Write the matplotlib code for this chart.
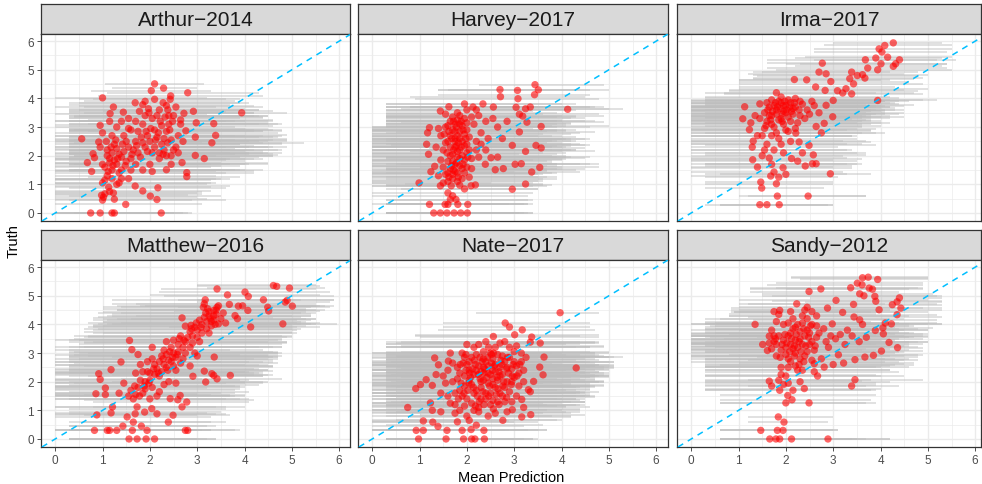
import numpy as np
import matplotlib
matplotlib.use("Agg")
import matplotlib.pyplot as plt

plt.rcParams["font.family"] = ["Liberation Sans", "DejaVu Sans"]

# panel titles (facet order: row by row)
STORMS = ["Arthur\u22122014", "Harvey\u22122017", "Irma\u22122017",
          "Matthew\u22122016", "Nate\u22122017", "Sandy\u22122012"]

# (mean prediction, truth, interval low, interval high)
ARTHUR = [
    (2.10, 4.51, 1.05, 3.15), (2.03, 4.27, 0.75, 3.30), (2.29, 4.36, 1.20, 3.00), (2.80, 4.20, 1.10, 4.30),
    (1.00, 4.02, 0.00, 3.20), (2.44, 4.09, 0.90, 4.40), (2.43, 3.97, 0.80, 3.90), (2.10, 3.97, 0.50, 3.60),
    (1.90, 3.90, 0.60, 3.80), (3.94, 3.50, 2.20, 4.90), (2.92, 3.55, 1.00, 4.60), (2.72, 3.48, 0.60, 4.20),
    (3.35, 3.12, 1.40, 4.80), (2.98, 3.15, 1.10, 4.50), (3.39, 2.71, 1.50, 4.90), (3.31, 2.45, 1.40, 5.25),
    (2.96, 2.65, 0.90, 4.60), (2.76, 2.87, 0.70, 4.40), (0.56, 2.59, 0.00, 2.60), (1.23, 3.70, 0.00, 3.40),
    (1.16, 3.47, 0.00, 3.20), (1.44, 3.52, 0.30, 3.60), (1.69, 3.85, 0.30, 3.90), (1.85, 3.78, 0.30, 3.70),
    (1.97, 3.64, 0.30, 4.00), (0.95, 3.06, 0.00, 3.00), (0.92, 2.48, 0.00, 3.10), (0.80, 2.07, 0.00, 2.80),
    (0.68, 1.76, 0.00, 2.70), (0.77, 1.45, 0.00, 2.80), (0.83, 1.93, 0.00, 3.00), (2.96, 2.01, 1.00, 4.70),
    (3.15, 1.90, 1.20, 4.40), (2.68, 1.76, 0.80, 4.50), (2.35, 1.51, 0.40, 4.40), (2.78, 1.41, 0.80, 4.20),
    (2.78, 1.27, 0.70, 3.90), (1.69, 0.94, 0.00, 3.70), (1.85, 0.77, 0.00, 3.30), (2.17, 0.88, 0.30, 3.60),
    (2.01, 0.59, 0.30, 3.50), (2.15, 0.47, 0.30, 3.60), (1.49, 0.30, 0.00, 3.10), (2.24, 0.00, 0.40, 2.90),
    (0.75, 0.00, 0.00, 2.40), (0.95, 0.00, 0.00, 2.50), (1.20, 0.00, 0.00, 2.70), (1.25, 0.00, 0.00, 2.80),
    (1.00, 0.45, 0.00, 2.90), (1.02, 0.55, 0.00, 3.00), (1.05, 0.67, 0.00, 3.10), (0.98, 0.62, 0.00, 2.80),
    (1.25, 0.48, 0.00, 3.20), (1.23, 0.70, 0.00, 3.00), (1.13, 0.90, 0.00, 3.30), (1.00, 1.05, 0.00, 3.40),
    (1.30, 1.00, 0.00, 3.20), (1.10, 1.30, 0.00, 3.40), (1.20, 1.50, 0.00, 3.50), (1.00, 1.70, 0.00, 3.30),
    (1.15, 1.90, 0.00, 3.60), (1.30, 1.70, 0.30, 3.70), (1.40, 1.50, 0.30, 3.80), (1.10, 2.20, 0.00, 3.70),
    (1.25, 2.40, 0.00, 3.90), (1.35, 2.05, 0.30, 3.80), (1.50, 1.80, 0.30, 4.00), (1.55, 2.30, 0.30, 4.10),
    (1.45, 2.70, 0.00, 4.00), (1.30, 3.00, 0.00, 3.80), (1.60, 2.90, 0.30, 4.20), (1.70, 2.50, 0.30, 4.30),
    (1.75, 2.10, 0.30, 4.10), (1.90, 2.30, 0.30, 4.50), (1.95, 2.70, 0.30, 4.40), (1.85, 3.10, 0.30, 4.30),
    (2.05, 3.30, 0.30, 4.40), (2.10, 2.90, 0.30, 4.60), (2.05, 2.10, 0.30, 4.50), (2.20, 1.90, 0.30, 4.20),
    (2.25, 2.40, 0.30, 4.80), (2.30, 2.60, 0.30, 4.90), (2.40, 3.10, 0.30, 4.70), (2.50, 3.40, 0.50, 4.50),
    (2.20, 3.60, 0.30, 4.30), (2.35, 3.75, 0.50, 4.20), (2.55, 2.30, 0.60, 4.90), (2.45, 2.00, 0.40, 4.60),
    (2.60, 2.70, 0.60, 4.80), (1.60, 1.50, 0.30, 3.90), (1.40, 1.20, 0.00, 3.50), (1.55, 3.30, 0.30, 3.90),
    (1.20, 2.70, 0.00, 3.80), (2.00, 1.70, 0.30, 4.00), (2.65, 3.10, 0.70, 4.50),
    (1.05, 1.60, 0.00, 3.30), (1.15, 1.75, 0.00, 3.50), (1.25, 1.85, 0.00, 3.60), (1.10, 2.00, 0.00, 3.40),
    (1.20, 2.10, 0.00, 3.70), (1.30, 2.25, 0.00, 3.80), (1.40, 1.95, 0.30, 3.90), (1.35, 1.40, 0.00, 3.60),
    (1.45, 2.15, 0.30, 4.00), (1.50, 2.50, 0.30, 4.10), (1.65, 2.20, 0.30, 4.20), (1.60, 1.90, 0.30, 4.00),
    (1.70, 1.70, 0.30, 4.10), (1.80, 1.95, 0.30, 4.30), (1.85, 2.45, 0.30, 4.40), (1.95, 2.15, 0.30, 4.40),
    (2.00, 2.50, 0.30, 4.50), (2.10, 2.30, 0.30, 4.60), (2.15, 2.65, 0.30, 4.70), (2.20, 2.10, 0.30, 4.40),
    (2.30, 2.20, 0.30, 4.70), (2.35, 2.85, 0.30, 4.80), (2.25, 3.05, 0.30, 4.60), (2.15, 3.40, 0.30, 4.30),
    (2.40, 3.40, 0.40, 4.50), (2.45, 2.55, 0.40, 4.90), (2.50, 2.20, 0.50, 4.80), (2.35, 2.00, 0.40, 4.60),
    (1.70, 3.20, 0.30, 4.00), (1.75, 2.85, 0.30, 4.20), (1.90, 3.40, 0.30, 4.20), (1.55, 2.95, 0.30, 4.00),
    (1.40, 3.20, 0.00, 3.80), (1.15, 3.20, 0.00, 3.60), (1.00, 2.80, 0.00, 3.40), (0.95, 2.30, 0.00, 3.20),
    (1.05, 1.15, 0.00, 3.30), (1.20, 1.20, 0.00, 3.40), (1.35, 1.05, 0.00, 3.30), (1.15, 0.75, 0.00, 3.10),
    (2.55, 3.70, 0.60, 4.40), (2.65, 3.25, 0.70, 4.60), (2.60, 2.10, 0.60, 4.80), (2.70, 2.50, 0.70, 4.90),
    (2.45, 1.70, 0.40, 4.50), (1.85, 1.50, 0.30, 4.00), (2.05, 1.45, 0.30, 4.20), (1.55, 1.20, 0.00, 3.70),
]
ARTHUR_CORE = [
    (1.12, 1.45, 0.00, 3.40), (1.22, 1.65, 0.00, 3.50), (1.32, 1.90, 0.00, 3.70), (1.18, 2.30, 0.00, 3.60),
    (1.28, 2.55, 0.00, 3.80), (1.42, 2.40, 0.30, 3.90), (1.48, 1.65, 0.30, 3.90), (1.62, 2.05, 0.30, 4.10),
    (1.72, 2.35, 0.30, 4.20), (1.82, 2.65, 0.30, 4.30), (1.92, 2.85, 0.30, 4.40), (2.02, 2.95, 0.30, 4.50),
    (2.12, 2.55, 0.30, 4.60), (2.18, 2.80, 0.30, 4.70), (2.22, 3.20, 0.30, 4.50), (2.28, 2.05, 0.30, 4.60),
    (2.32, 3.35, 0.40, 4.40), (2.38, 2.45, 0.40, 4.80), (2.42, 2.90, 0.40, 4.80), (2.48, 3.20, 0.50, 4.60),
    (1.98, 3.50, 0.30, 4.20), (2.28, 3.85, 0.50, 4.10), (2.38, 3.60, 0.50, 4.30), (1.78, 3.55, 0.30, 3.90),
    (1.08, 2.50, 0.00, 3.50),
]

HARVEY = [
    (3.44, 4.48, 2.25, 4.90), (3.51, 4.30, 1.40, 5.00), (3.43, 4.13, 1.40, 4.60), (2.70, 4.31, 1.40, 4.30),
    (3.07, 4.28, 1.60, 4.60), (2.71, 4.06, 0.80, 4.50), (3.08, 3.99, 0.90, 4.80), (4.13, 3.62, 2.00, 5.30),
    (3.34, 3.70, 0.80, 4.90), (3.04, 3.69, 0.80, 4.70), (3.24, 3.64, 0.60, 5.00), (3.11, 3.45, 0.30, 4.80),
    (3.18, 3.38, 0.30, 4.90), (3.57, 3.02, 1.40, 5.00), (3.27, 3.17, 0.60, 4.90), (3.11, 2.83, 0.50, 4.70),
    (2.96, 2.36, 0.40, 4.50), (3.46, 2.36, 1.00, 4.60), (3.57, 2.27, 1.20, 4.50), (3.24, 2.15, 0.80, 4.70),
    (3.02, 1.70, 0.50, 4.80), (3.15, 1.72, 0.60, 4.60), (3.37, 1.43, 0.80, 4.40), (3.54, 1.59, 1.00, 4.80),
    (3.24, 1.01, 0.70, 3.60), (2.96, 0.83, 0.60, 3.50), (2.60, 1.51, 0.30, 4.30), (2.77, 1.55, 0.30, 4.50),
    (2.39, 1.70, 0.30, 4.40), (2.51, 1.93, 0.30, 4.50), (2.65, 1.95, 0.30, 4.60), (0.99, 1.05, 0.00, 2.50),
    (1.15, 2.40, 0.00, 2.90), (1.21, 2.98, 0.00, 3.10), (1.17, 2.80, 0.00, 3.00), (1.44, 3.56, 0.30, 3.40),
    (1.62, 3.71, 0.30, 3.60), (1.95, 3.81, 0.30, 4.00), (2.13, 3.70, 0.30, 4.20), (2.34, 3.81, 0.30, 4.30),
    (2.56, 3.70, 0.30, 4.60), (1.19, 2.05, 0.00, 3.10), (1.24, 1.44, 0.00, 3.00), (1.32, 1.63, 0.00, 3.20),
    (1.30, 0.00, 0.30, 3.00), (1.44, 0.00, 0.30, 3.10), (1.58, 0.00, 0.30, 3.20), (1.73, 0.00, 0.30, 3.30),
    (1.87, 0.00, 0.30, 3.40), (2.01, 0.00, 0.30, 3.40), (1.21, 0.30, 0.00, 2.90), (1.54, 0.30, 0.30, 3.20),
    (1.60, 0.30, 0.30, 3.30), (1.81, 0.30, 0.30, 3.40), (2.02, 0.30, 0.30, 3.30), (1.65, 0.47, 0.30, 3.30),
    (1.77, 0.47, 0.30, 3.40), (1.60, 0.70, 0.00, 3.40), (1.70, 0.60, 0.00, 3.30), (1.44, 0.95, 0.00, 3.20),
    (1.67, 0.95, 0.00, 3.40), (1.85, 0.97, 0.30, 3.60), (1.95, 0.84, 0.30, 3.50), (2.09, 0.95, 0.30, 3.70),
    (2.18, 0.98, 0.30, 3.80), (1.40, 1.30, 0.00, 3.40), (1.50, 1.60, 0.00, 3.60), (1.60, 1.40, 0.00, 3.50),
    (1.70, 1.20, 0.00, 3.60), (1.80, 1.40, 0.00, 3.80), (1.90, 1.20, 0.30, 3.90), (1.75, 1.70, 0.00, 3.90),
    (1.85, 1.90, 0.00, 4.00), (1.65, 2.00, 0.00, 3.80), (1.50, 2.20, 0.00, 3.70), (1.60, 2.50, 0.00, 3.80),
    (1.75, 2.30, 0.00, 4.10), (1.90, 2.50, 0.00, 4.20), (1.80, 2.70, 0.00, 4.00), (1.70, 2.90, 0.00, 3.90),
    (1.55, 3.00, 0.00, 3.70), (1.65, 3.20, 0.30, 3.90), (1.85, 3.10, 0.30, 4.10), (1.95, 3.30, 0.30, 4.20),
    (2.00, 2.90, 0.00, 4.30), (2.05, 2.20, 0.00, 4.20), (2.00, 1.60, 0.30, 4.00), (2.10, 1.90, 0.30, 4.10),
    (2.20, 2.50, 0.30, 4.30), (2.15, 3.10, 0.30, 4.20), (2.30, 2.80, 0.30, 4.40), (2.25, 3.40, 0.30, 4.30),
    (1.45, 2.70, 0.00, 3.50), (1.35, 2.30, 0.00, 3.30), (1.80, 3.50, 0.30, 3.90), (2.40, 3.20, 0.30, 4.50),
    (1.95, 1.40, 0.30, 3.90), (1.70, 1.80, 0.00, 3.80), (1.85, 2.20, 0.00, 4.00), (1.75, 2.60, 0.00, 4.10),
    (2.00, 3.60, 0.30, 4.10),
    (1.55, 1.35, 0.00, 3.50), (1.65, 1.55, 0.00, 3.70), (1.75, 1.45, 0.00, 3.70), (1.85, 1.65, 0.00, 3.90),
    (1.95, 1.85, 0.00, 4.00), (1.60, 1.80, 0.00, 3.70), (1.70, 2.05, 0.00, 3.90), (1.80, 2.15, 0.00, 4.00),
    (1.90, 2.00, 0.00, 4.10), (2.00, 2.40, 0.00, 4.20), (1.55, 2.45, 0.00, 3.70), (1.65, 2.70, 0.00, 3.80),
    (1.75, 2.85, 0.00, 3.90), (1.85, 2.60, 0.00, 4.00), (1.95, 2.75, 0.00, 4.20), (2.05, 2.65, 0.00, 4.30),
    (1.60, 3.05, 0.30, 3.80), (1.70, 3.35, 0.30, 3.90), (1.80, 3.25, 0.30, 4.00), (1.90, 3.05, 0.30, 4.10),
    (2.00, 3.15, 0.30, 4.20), (2.10, 3.35, 0.30, 4.30), (1.85, 3.40, 0.30, 4.00), (1.75, 3.10, 0.30, 3.90),
    (1.65, 2.30, 0.00, 3.80), (1.80, 1.95, 0.00, 3.90), (1.90, 1.55, 0.30, 3.90), (1.70, 1.35, 0.00, 3.60),
    (1.80, 1.10, 0.00, 3.60), (1.60, 1.10, 0.00, 3.50), (1.50, 1.05, 0.00, 3.40), (2.05, 1.25, 0.30, 3.90),
    (2.10, 1.55, 0.30, 4.00), (1.95, 2.35, 0.00, 4.20), (1.85, 2.85, 0.00, 4.10), (1.75, 2.50, 0.00, 3.90),
    (2.00, 2.10, 0.00, 4.10), (2.20, 2.20, 0.30, 4.30), (2.25, 1.95, 0.30, 4.20), (2.30, 2.40, 0.30, 4.40),
    (2.45, 2.60, 0.30, 4.50), (2.55, 3.30, 0.30, 4.50), (2.65, 3.00, 0.30, 4.60), (2.85, 3.20, 0.40, 4.70),
    (2.75, 2.60, 0.40, 4.60), (2.40, 2.20, 0.30, 4.30), (1.45, 1.85, 0.00, 3.40), (1.40, 2.95, 0.00, 3.40),
    (1.55, 3.45, 0.30, 3.60), (2.20, 3.60, 0.30, 4.30),
]
HARVEY_CORE = [
    (1.72, 1.50, 0.00, 3.70), (1.78, 1.75, 0.00, 3.80), (1.82, 2.45, 0.00, 4.00), (1.88, 2.30, 0.00, 4.00),
    (1.92, 2.90, 0.00, 4.10), (1.68, 2.60, 0.00, 3.80), (1.72, 2.20, 0.00, 3.80), (1.78, 3.00, 0.00, 3.90),
    (1.88, 3.20, 0.30, 4.00), (1.62, 2.85, 0.00, 3.70), (1.58, 2.10, 0.00, 3.60), (1.98, 2.60, 0.00, 4.20),
    (1.92, 1.70, 0.00, 3.90), (1.82, 1.25, 0.00, 3.70), (1.68, 1.65, 0.00, 3.70), (1.72, 3.20, 0.30, 3.90),
    (1.62, 1.25, 0.00, 3.50), (2.02, 1.95, 0.00, 4.10), (1.52, 2.75, 0.00, 3.60), (1.78, 2.35, 0.00, 3.90),
]

IRMA = [
    (4.27, 5.94, 3.00, 5.30), (4.09, 5.85, 2.80, 5.50), (3.97, 5.73, 2.60, 5.50), (4.03, 5.62, 2.60, 5.40),
    (4.15, 5.44, 2.40, 5.50), (4.40, 5.35, 2.60, 5.60), (4.32, 5.21, 2.30, 5.40), (4.27, 5.12, 2.20, 5.30),
    (3.90, 5.41, 2.20, 5.30), (3.68, 5.35, 1.60, 5.20), (3.73, 5.06, 1.60, 5.40), (3.94, 5.00, 1.80, 5.50),
    (3.62, 4.83, 1.30, 5.00), (3.67, 4.71, 1.30, 4.90), (4.01, 5.21, 2.00, 5.40), (2.77, 5.23, 1.60, 4.40),
    (2.70, 4.92, 1.30, 4.20), (2.85, 4.86, 1.20, 4.50), (3.39, 4.92, 1.50, 4.80), (3.51, 4.80, 1.40, 4.80),
    (3.35, 4.69, 1.30, 4.70), (3.43, 4.51, 1.00, 4.90), (2.95, 4.59, 1.00, 4.60), (2.18, 4.66, 1.00, 4.00),
    (2.44, 4.65, 1.00, 4.20), (2.63, 4.40, 1.00, 4.30), (2.83, 4.28, 0.80, 4.50), (3.09, 4.27, 0.80, 4.80),
    (3.27, 4.34, 1.00, 5.00), (3.39, 4.16, 0.70, 4.90), (3.20, 4.19, 0.70, 4.70), (3.94, 3.93, 1.50, 5.20),
    (3.00, 3.93, 0.30, 4.90), (2.85, 3.76, 0.30, 4.70), (2.99, 3.36, 0.30, 4.50), (2.81, 3.13, 0.30, 4.20),
    (2.64, 3.02, 0.30, 4.00), (1.80, 4.20, 0.30, 3.90), (1.13, 3.71, 0.00, 3.50), (1.45, 3.81, 0.00, 3.70),
    (1.09, 3.29, 0.00, 3.40), (1.23, 2.91, 0.00, 3.30), (1.26, 3.15, 0.00, 3.50), (1.31, 2.51, 0.00, 3.20),
    (1.29, 2.30, 0.00, 3.10), (1.30, 1.86, 0.00, 3.00), (2.21, 2.79, 0.00, 3.90), (2.28, 2.48, 0.00, 3.80),
    (2.49, 2.36, 0.30, 3.90), (2.58, 2.03, 0.30, 3.70), (2.64, 1.72, 0.30, 3.60), (2.56, 1.72, 0.30, 3.50),
    (2.41, 1.64, 0.30, 3.40), (2.94, 1.37, 0.60, 3.80), (2.25, 1.81, 0.00, 3.50), (2.12, 1.90, 0.00, 3.60),
    (1.94, 1.58, 0.00, 3.40), (1.80, 1.02, 0.30, 3.00), (1.49, 0.87, 0.30, 2.80), (1.47, 1.08, 0.30, 3.00),
    (1.68, 1.29, 0.00, 3.00), (1.75, 1.43, 0.00, 3.20), (1.65, 1.92, 0.00, 3.30), (1.45, 0.29, 0.30, 3.00),
    (1.60, 0.29, 0.60, 2.90), (1.86, 0.29, 0.60, 3.00), (1.82, 0.59, 1.00, 3.70), (2.47, 0.59, 1.20, 3.70),
    (1.55, 3.50, 0.00, 3.70), (1.60, 3.20, 0.00, 3.60), (1.65, 3.70, 0.00, 3.80), (1.70, 3.40, 0.00, 3.80),
    (1.75, 3.00, 0.00, 3.60), (1.80, 3.60, 0.00, 3.90), (1.85, 3.90, 0.00, 4.10), (1.90, 3.30, 0.00, 3.80),
    (1.95, 3.75, 0.00, 4.00), (2.00, 3.50, 0.00, 4.10), (2.05, 3.95, 0.30, 4.20), (2.10, 3.20, 0.00, 4.00),
    (2.15, 3.65, 0.00, 4.30), (2.20, 4.00, 0.30, 4.40), (2.30, 3.40, 0.00, 4.20), (2.35, 3.80, 0.30, 4.40),
    (1.50, 2.70, 0.00, 3.40), (1.60, 2.40, 0.00, 3.30), (1.70, 2.70, 0.00, 3.50), (1.85, 2.60, 0.00, 3.50),
    (2.00, 2.90, 0.00, 3.80), (1.55, 2.20, 0.00, 3.30), (1.35, 3.40, 0.00, 3.60), (2.45, 3.60, 0.30, 4.50),
    (2.55, 3.90, 0.30, 4.60), (1.90, 4.05, 0.30, 4.20), (1.75, 2.20, 0.00, 3.40), (2.10, 2.50, 0.00, 3.70),
    (1.60, 3.85, 0.00, 3.80), (1.70, 3.95, 0.00, 3.90), (1.75, 3.75, 0.00, 3.90), (1.80, 3.45, 0.00, 3.80),
    (1.85, 3.25, 0.00, 3.80), (1.90, 3.85, 0.00, 4.00), (1.95, 3.55, 0.00, 4.00), (2.00, 3.75, 0.00, 4.10),
    (2.05, 3.35, 0.00, 4.00), (2.10, 3.85, 0.30, 4.20), (2.15, 3.45, 0.00, 4.10), (2.20, 3.70, 0.30, 4.20),
    (2.25, 3.15, 0.00, 4.00), (2.30, 3.90, 0.30, 4.40), (1.65, 3.40, 0.00, 3.70), (1.70, 3.10, 0.00, 3.60),
    (1.55, 2.95, 0.00, 3.50), (1.45, 3.30, 0.00, 3.60), (1.40, 2.70, 0.00, 3.40), (1.95, 3.10, 0.00, 3.80),
    (2.05, 2.85, 0.00, 3.80), (1.80, 2.80, 0.00, 3.60), (1.90, 2.40, 0.00, 3.60), (2.20, 2.95, 0.00, 3.90),
    (2.40, 3.30, 0.30, 4.20), (2.50, 3.45, 0.30, 4.40), (2.60, 3.75, 0.30, 4.50), (2.70, 3.50, 0.30, 4.50),
    (1.50, 2.00, 0.00, 3.20), (1.40, 1.60, 0.00, 3.00), (1.95, 2.10, 0.00, 3.50), (1.70, 1.70, 0.00, 3.30),
    (1.85, 1.25, 0.30, 3.10), (2.35, 2.10, 0.30, 3.70), (2.00, 1.35, 0.30, 3.30), (2.75, 2.80, 0.30, 4.10),
]
IRMA_CORE = [
    (1.72, 3.55, 0.00, 3.80), (1.78, 3.85, 0.00, 3.90), (1.88, 3.65, 0.00, 4.00), (1.92, 3.45, 0.00, 3.90),
    (1.98, 3.90, 0.00, 4.10), (2.02, 3.60, 0.00, 4.10), (2.08, 3.70, 0.00, 4.20), (1.82, 3.70, 0.00, 3.90),
    (1.68, 3.25, 0.00, 3.70), (2.12, 3.55, 0.00, 4.10), (1.62, 3.60, 0.00, 3.80), (1.92, 3.20, 0.00, 3.80),
    (2.18, 3.85, 0.30, 4.30), (1.58, 3.05, 0.00, 3.60), (2.28, 3.60, 0.00, 4.30),
]

MATTHEW = [
    (3.42, 5.24, 2.24, 5.50), (3.64, 5.03, 2.00, 5.60), (4.01, 5.13, 2.20, 5.80), (4.08, 4.98, 2.30, 5.90),
    (4.40, 4.86, 2.60, 5.90), (4.61, 5.36, 3.00, 5.50), (4.68, 5.33, 3.00, 5.60), (4.95, 5.27, 3.20, 5.70),
    (4.86, 4.78, 3.00, 5.80), (4.90, 4.84, 3.00, 5.90), (5.01, 4.64, 3.10, 5.90), (4.49, 4.60, 2.60, 5.80),
    (4.51, 4.47, 2.50, 5.60), (4.81, 4.02, 2.90, 5.96), (4.13, 3.91, 2.40, 5.60), (3.80, 4.31, 1.70, 5.40),
    (3.85, 4.20, 1.60, 5.50), (3.68, 4.70, 1.70, 5.50), (3.87, 4.64, 1.80, 5.60), (3.96, 4.65, 1.90, 5.70),
    (4.07, 4.49, 2.00, 5.70), (3.17, 4.86, 1.20, 5.20), (3.15, 4.72, 1.20, 5.00), (3.13, 4.60, 1.00, 5.10),
    (2.68, 4.23, 0.80, 4.60), (2.75, 3.94, 0.80, 4.80), (2.87, 3.97, 0.80, 5.00), (3.35, 4.49, 1.30, 5.30),
    (3.42, 4.60, 1.40, 5.40), (3.45, 4.02, 1.20, 5.50), (3.30, 4.10, 1.00, 5.20), (3.25, 4.30, 1.10, 5.00),
    (3.70, 2.22, 1.80, 4.50), (3.35, 2.22, 1.20, 4.60), (3.31, 2.28, 1.00, 4.40), (3.42, 2.10, 1.40, 4.80),
    (3.18, 1.99, 1.20, 4.50), (3.15, 2.37, 1.00, 4.60), (3.36, 2.86, 1.20, 4.70), (2.91, 2.19, 0.70, 4.40),
    (1.57, 3.44, 0.00, 3.50), (1.62, 3.12, 0.00, 3.70), (1.39, 2.69, 0.00, 3.50), (1.18, 2.42, 0.00, 3.30),
    (0.92, 2.28, 0.00, 3.00), (0.95, 2.08, 0.00, 3.10), (0.86, 1.58, 0.00, 3.00), (1.06, 1.78, 0.00, 3.20),
    (1.06, 1.55, 0.00, 3.30), (1.21, 1.12, 0.00, 3.40), (1.18, 0.91, 0.00, 3.20), (0.88, 0.84, 0.00, 3.00),
    (0.83, 0.30, 0.00, 2.90), (1.10, 0.30, 0.00, 3.00), (1.15, 0.30, 0.00, 3.00), (1.30, 0.30, 0.30, 3.10),
    (1.43, 0.45, 0.30, 3.20), (1.63, 0.30, 0.30, 3.30), (1.65, 0.59, 0.30, 3.30), (1.82, 0.45, 0.30, 3.40),
    (1.94, 0.30, 0.30, 3.30), (1.56, 0.00, 0.30, 3.00), (1.73, 0.00, 0.30, 3.20), (1.92, 0.00, 0.30, 3.40),
    (2.10, 0.00, 0.30, 3.40), (2.75, 0.30, 1.00, 3.80), (2.80, 0.30, 1.10, 3.90), (2.39, 0.59, 0.60, 3.60),
    (2.49, 0.83, 0.60, 3.70), (2.15, 0.88, 0.30, 3.60), (2.04, 1.06, 0.30, 3.60), (1.89, 0.94, 0.30, 3.50),
    (1.73, 1.12, 0.00, 3.60), (1.52, 0.77, 0.00, 3.30), (1.69, 0.88, 0.00, 3.40), (2.68, 1.12, 0.80, 4.00),
    (2.78, 1.29, 0.80, 4.10), (2.59, 1.37, 0.60, 4.20), (2.64, 1.52, 0.60, 4.00), (2.43, 1.41, 0.30, 4.10),
    (1.55, 1.50, 0.00, 3.70), (1.65, 1.40, 0.00, 3.60), (1.75, 1.80, 0.00, 3.90), (1.85, 1.60, 0.00, 3.80),
    (1.90, 2.00, 0.00, 4.00), (2.00, 2.30, 0.00, 4.20), (2.05, 1.80, 0.00, 4.00), (2.10, 2.60, 0.00, 4.30),
    (2.20, 2.20, 0.30, 4.40), (2.25, 2.90, 0.30, 4.50), (2.30, 3.10, 0.30, 4.40), (2.35, 2.50, 0.30, 4.60),
    (2.45, 2.70, 0.30, 4.60), (2.50, 3.00, 0.30, 4.70), (2.55, 2.40, 0.30, 4.50), (2.60, 3.30, 0.50, 4.80),
    (2.70, 2.80, 0.50, 4.70), (2.75, 3.40, 0.60, 4.90), (2.85, 3.20, 0.60, 4.80), (2.90, 3.60, 0.70, 5.00),
    (2.95, 3.00, 0.70, 4.70), (3.00, 3.80, 0.80, 5.10), (3.05, 3.40, 0.80, 4.90), (3.10, 4.00, 0.90, 5.20),
    (3.20, 4.10, 1.00, 5.30), (3.25, 3.70, 1.00, 5.00), (3.35, 4.30, 1.20, 5.40), (3.40, 4.50, 1.30, 5.50),
    (1.95, 2.70, 0.00, 4.10), (2.15, 1.50, 0.30, 4.00), (2.30, 1.90, 0.30, 4.30), (1.70, 2.30, 0.00, 3.80),
    (1.80, 2.60, 0.00, 4.00), (2.05, 3.20, 0.00, 4.30), (2.40, 2.00, 0.30, 4.40),
    (1.60, 1.70, 0.00, 3.80), (1.70, 1.55, 0.00, 3.70), (1.80, 2.05, 0.00, 3.90), (1.90, 1.75, 0.00, 3.90),
    (2.00, 2.05, 0.00, 4.10), (2.10, 2.25, 0.00, 4.20), (2.15, 2.45, 0.30, 4.30), (2.20, 2.70, 0.30, 4.40),
    (2.25, 2.35, 0.30, 4.40), (2.30, 2.60, 0.30, 4.50), (2.35, 2.95, 0.30, 4.50), (2.40, 2.75, 0.30, 4.60),
    (2.45, 3.20, 0.30, 4.60), (2.50, 2.55, 0.30, 4.60), (2.55, 2.85, 0.30, 4.70), (2.60, 3.05, 0.40, 4.70),
    (2.65, 2.65, 0.40, 4.70), (2.70, 3.20, 0.50, 4.80), (2.75, 3.00, 0.50, 4.80), (2.80, 3.55, 0.60, 4.90),
    (2.85, 3.75, 0.60, 5.00), (2.90, 3.35, 0.60, 4.90), (2.95, 3.90, 0.70, 5.00), (3.00, 3.55, 0.70, 5.00),
    (3.05, 4.15, 0.80, 5.10), (3.10, 3.70, 0.80, 5.10), (3.15, 4.25, 0.90, 5.20), (3.20, 3.85, 0.90, 5.20),
    (3.25, 4.45, 1.00, 5.30), (3.30, 3.95, 1.00, 5.30), (3.35, 4.15, 1.10, 5.40), (3.40, 4.35, 1.20, 5.40),
    (3.45, 4.65, 1.30, 5.50), (3.50, 4.20, 1.30, 5.50), (3.55, 4.40, 1.40, 5.50), (3.60, 4.05, 1.40, 5.60),
    (2.20, 1.65, 0.30, 4.10), (2.00, 1.40, 0.00, 3.90), (1.95, 2.35, 0.00, 4.10), (2.05, 2.80, 0.00, 4.20),
    (2.35, 3.40, 0.30, 4.50), (2.50, 3.45, 0.30, 4.70), (2.65, 3.60, 0.40, 4.80), (2.85, 2.55, 0.60, 4.60),
    (3.00, 2.90, 0.70, 4.80), (1.85, 2.35, 0.00, 4.00), (1.75, 2.95, 0.00, 3.90), (1.45, 1.95, 0.00, 3.60),
    (1.35, 1.60, 0.00, 3.50), (2.55, 1.95, 0.40, 4.40),
]
MATTHEW_CORE = [
    (2.88, 3.85, 0.60, 5.00), (2.98, 4.05, 0.70, 5.10), (3.08, 3.90, 0.80, 5.10), (3.18, 4.40, 0.90, 5.20),
    (3.28, 4.20, 1.00, 5.30), (3.38, 4.00, 1.10, 5.40), (2.72, 3.45, 0.50, 4.80), (2.58, 2.95, 0.40, 4.70),
    (2.48, 2.85, 0.30, 4.60), (2.38, 2.40, 0.30, 4.50), (2.28, 2.80, 0.30, 4.50), (2.18, 2.30, 0.30, 4.30),
    (2.08, 2.45, 0.00, 4.20), (1.98, 1.95, 0.00, 4.00), (1.88, 1.85, 0.00, 3.90), (1.78, 1.50, 0.00, 3.80),
    (1.68, 1.85, 0.00, 3.80), (2.42, 3.05, 0.30, 4.60), (2.62, 3.50, 0.40, 4.80), (3.22, 4.55, 1.00, 5.30),
]

NATE = [
    (3.97, 4.41, 2.20, 4.80), (2.81, 4.05, 1.50, 4.60), (2.90, 3.91, 1.50, 4.60), (3.17, 3.81, 1.40, 4.70),
    (3.01, 3.64, 0.90, 4.80), (2.56, 3.58, 0.90, 4.40), (3.37, 3.56, 1.00, 4.80), (3.55, 3.35, 1.20, 4.80),
    (3.34, 3.38, 1.00, 4.70), (4.31, 2.48, 2.40, 5.10), (3.63, 2.86, 1.40, 5.30), (3.54, 2.51, 1.30, 5.10),
    (3.61, 2.24, 1.40, 5.00), (3.41, 2.01, 1.10, 4.90), (3.30, 1.72, 1.00, 4.60), (3.34, 1.65, 1.00, 4.50),
    (3.16, 1.38, 0.80, 4.50), (3.35, 0.85, 1.00, 4.50), (3.16, 0.77, 0.80, 4.20), (2.96, 1.02, 0.60, 4.40),
    (2.76, 0.65, 0.50, 4.00), (1.32, 2.83, 0.00, 3.50), (1.40, 2.59, 0.00, 3.40), (1.61, 2.72, 0.00, 3.70),
    (1.14, 2.07, 0.00, 3.20), (1.02, 1.90, 0.00, 3.10), (0.92, 1.76, 0.00, 3.00), (1.27, 1.87, 0.00, 3.30),
    (0.75, 1.10, 0.00, 2.60), (1.23, 1.26, 0.00, 3.10), (1.27, 1.00, 0.00, 3.00), (1.08, 0.63, 0.00, 2.90),
    (1.28, 0.59, 0.00, 3.00), (0.93, 0.30, 0.00, 2.80), (1.08, 0.30, 0.00, 2.90), (0.98, 0.00, 0.30, 2.70),
    (1.56, 0.00, 0.30, 3.00), (1.93, 0.00, 0.30, 3.20), (2.10, 0.00, 0.30, 3.40), (2.17, 0.00, 0.30, 3.50),
    (2.37, 0.00, 0.30, 3.40), (1.39, 0.44, 0.00, 3.20), (1.58, 0.30, 0.00, 3.30), (1.90, 0.30, 0.00, 3.50),
    (2.09, 0.33, 0.30, 3.70), (2.20, 0.48, 0.30, 3.60), (2.36, 0.30, 0.30, 3.70), (1.60, 1.50, 0.00, 3.60),
    (1.70, 2.00, 0.00, 3.80), (1.75, 1.20, 0.00, 3.70), (1.80, 2.50, 0.00, 3.90), (1.85, 1.70, 0.00, 3.90),
    (1.90, 3.00, 0.00, 4.00), (1.95, 2.20, 0.00, 4.10), (2.00, 1.40, 0.00, 4.00), (2.05, 2.70, 0.00, 4.20),
    (2.10, 1.90, 0.00, 4.20), (2.15, 3.20, 0.30, 4.30), (2.20, 2.40, 0.00, 4.40), (2.25, 1.10, 0.30, 4.10),
    (2.30, 2.00, 0.30, 4.50), (2.35, 2.80, 0.30, 4.50), (2.40, 1.60, 0.30, 4.40), (2.45, 2.30, 0.30, 4.60),
    (2.50, 3.00, 0.30, 4.70), (2.55, 1.90, 0.30, 4.60), (2.60, 2.60, 0.30, 4.80), (2.65, 1.30, 0.30, 4.50),
    (2.70, 2.20, 0.30, 4.80), (2.75, 2.90, 0.50, 4.90), (2.80, 1.80, 0.50, 4.70), (2.85, 2.50, 0.50, 5.00),
    (2.90, 3.20, 0.60, 4.90), (2.95, 2.00, 0.60, 4.80), (3.00, 2.70, 0.60, 5.10), (3.05, 1.50, 0.70, 4.70),
    (3.10, 2.30, 0.70, 5.00), (3.15, 3.00, 0.80, 5.00), (3.20, 2.00, 0.80, 4.90), (1.65, 3.00, 0.00, 3.80),
    (2.00, 3.30, 0.30, 4.10), (2.40, 3.40, 0.30, 4.40), (2.60, 0.90, 0.30, 4.20), (2.00, 0.80, 0.00, 3.80),
    (1.85, 1.00, 0.00, 3.70), (2.30, 1.40, 0.30, 4.30), (2.50, 1.20, 0.30, 4.40), (2.15, 1.60, 0.00, 4.30),
    (2.55, 2.10, 0.30, 4.70), (2.35, 2.50, 0.30, 4.60), (2.05, 2.40, 0.00, 4.30), (2.75, 1.50, 0.40, 4.60),
    (1.45, 1.60, 0.00, 3.40), (1.50, 2.20, 0.00, 3.60), (2.80, 3.40, 0.60, 4.80), (1.80, 0.60, 0.00, 3.50),
    (2.95, 1.30, 0.60, 4.50),
    (1.75, 1.60, 0.00, 3.80), (1.80, 2.10, 0.00, 3.90), (1.85, 2.30, 0.00, 4.00), (1.90, 1.50, 0.00, 3.90),
    (1.95, 1.85, 0.00, 4.00), (2.00, 2.60, 0.00, 4.20), (2.05, 2.05, 0.00, 4.20), (2.10, 1.25, 0.00, 4.00),
    (2.10, 2.85, 0.30, 4.30), (2.15, 2.25, 0.00, 4.30), (2.20, 1.70, 0.30, 4.30), (2.20, 2.95, 0.30, 4.40),
    (2.25, 2.55, 0.30, 4.40), (2.30, 1.80, 0.30, 4.40), (2.30, 2.35, 0.30, 4.50), (2.35, 2.05, 0.30, 4.50),
    (2.35, 3.05, 0.30, 4.60), (2.40, 2.70, 0.30, 4.60), (2.40, 1.40, 0.30, 4.30), (2.45, 1.95, 0.30, 4.60),
    (2.45, 2.55, 0.30, 4.70), (2.50, 2.25, 0.30, 4.70), (2.50, 1.60, 0.30, 4.50), (2.55, 2.80, 0.30, 4.70),
    (2.55, 1.35, 0.30, 4.40), (2.60, 2.35, 0.30, 4.80), (2.60, 1.80, 0.30, 4.60), (2.65, 2.95, 0.30, 4.80),
    (2.65, 2.05, 0.30, 4.70), (2.70, 2.50, 0.30, 4.90), (2.70, 1.60, 0.30, 4.60), (2.75, 2.25, 0.40, 4.90),
    (2.80, 2.70, 0.40, 5.00), (2.80, 1.30, 0.40, 4.50), (2.85, 2.00, 0.50, 4.90), (2.90, 2.85, 0.50, 5.00),
    (2.90, 1.65, 0.50, 4.80), (2.95, 2.45, 0.60, 5.00), (3.00, 2.15, 0.60, 5.00), (3.00, 3.05, 0.60, 5.00),
    (3.05, 2.55, 0.70, 5.10), (3.10, 1.85, 0.70, 4.90), (3.15, 2.70, 0.80, 5.10), (3.20, 2.40, 0.80, 5.00),
    (2.25, 0.95, 0.30, 4.10), (2.45, 0.80, 0.30, 4.20), (2.05, 0.65, 0.00, 3.90), (2.15, 1.00, 0.00, 4.00),
    (1.95, 1.15, 0.00, 3.90), (1.65, 1.25, 0.00, 3.60), (1.55, 1.95, 0.00, 3.60), (1.60, 2.40, 0.00, 3.70),
    (1.70, 2.65, 0.00, 3.80), (1.75, 0.90, 0.00, 3.60), (1.95, 2.85, 0.00, 4.10), (2.25, 3.30, 0.30, 4.40),
    (2.60, 3.20, 0.30, 4.60), (2.70, 3.35, 0.50, 4.70), (3.05, 3.25, 0.60, 4.90), (3.25, 2.85, 0.90, 5.10),
    (1.45, 0.95, 0.00, 3.30), (1.35, 2.25, 0.00, 3.40), (2.85, 0.95, 0.50, 4.40), (3.20, 1.10, 0.80, 4.60),
]
NATE_CORE = [
    (1.88, 1.95, 0.00, 4.00), (1.98, 2.40, 0.00, 4.10), (2.08, 2.15, 0.00, 4.20), (2.18, 2.60, 0.00, 4.30),
    (2.28, 2.10, 0.30, 4.40), (2.38, 2.45, 0.30, 4.50), (2.48, 1.85, 0.30, 4.60), (2.58, 2.55, 0.30, 4.70),
    (2.68, 2.35, 0.30, 4.80), (2.78, 2.00, 0.40, 4.80), (2.88, 2.30, 0.50, 4.90), (2.22, 1.50, 0.30, 4.30),
    (2.32, 2.70, 0.30, 4.50), (2.42, 2.15, 0.30, 4.60), (2.52, 2.65, 0.30, 4.70), (2.62, 1.55, 0.30, 4.60),
    (2.72, 2.75, 0.30, 4.80), (2.12, 2.45, 0.00, 4.30), (2.02, 1.70, 0.00, 4.10), (1.92, 2.65, 0.00, 4.00),
    (2.36, 1.20, 0.30, 4.30), (2.56, 1.05, 0.30, 4.40), (2.96, 2.20, 0.60, 5.00), (2.46, 3.20, 0.30, 4.60),
    (2.84, 1.45, 0.50, 4.70),
    (1.82, 1.40, 0.00, 3.90), (1.86, 2.60, 0.00, 4.00), (1.94, 1.60, 0.00, 4.00), (1.98, 2.95, 0.00, 4.10),
    (2.04, 1.95, 0.00, 4.20), (2.06, 2.30, 0.00, 4.20), (2.14, 1.80, 0.00, 4.30), (2.16, 2.75, 0.30, 4.30),
    (2.24, 2.25, 0.30, 4.40), (2.26, 1.30, 0.30, 4.20), (2.34, 1.65, 0.30, 4.40), (2.36, 2.30, 0.30, 4.50),
    (2.44, 2.85, 0.30, 4.60), (2.46, 1.50, 0.30, 4.50), (2.54, 2.40, 0.30, 4.70), (2.56, 3.00, 0.30, 4.70),
    (2.64, 2.15, 0.30, 4.70), (2.66, 1.75, 0.30, 4.60), (2.74, 2.60, 0.30, 4.80), (2.76, 1.85, 0.40, 4.70),
    (2.84, 2.45, 0.50, 4.90), (2.86, 2.85, 0.50, 5.00), (2.94, 1.90, 0.60, 4.90), (2.98, 2.60, 0.60, 5.00),
    (3.06, 2.20, 0.70, 5.00), (3.12, 2.60, 0.70, 5.10), (2.18, 1.15, 0.30, 4.10), (2.68, 1.20, 0.30, 4.50),
    (2.52, 2.95, 0.30, 4.70), (2.28, 2.85, 0.30, 4.50),
]

SANDY = [
    (3.62, 5.63, 2.10, 5.00), (3.74, 5.65, 2.10, 5.00), (3.94, 5.57, 2.30, 5.00), (3.51, 5.44, 1.80, 4.90),
    (3.61, 5.38, 1.60, 4.90), (3.37, 5.28, 1.25, 4.80), (3.76, 5.27, 1.80, 4.90), (3.83, 5.23, 2.00, 4.90),
    (2.74, 5.24, 1.25, 4.60), (2.49, 5.15, 1.25, 4.40), (3.56, 5.07, 1.50, 5.10), (3.65, 5.00, 1.50, 5.20),
    (3.88, 4.98, 1.70, 5.30), (3.90, 4.81, 1.70, 5.30), (4.40, 4.93, 2.50, 5.30), (4.35, 4.79, 2.40, 5.30),
    (4.25, 4.69, 2.30, 5.30), (4.43, 4.57, 2.40, 5.30), (4.35, 4.34, 2.20, 5.20), (3.97, 4.51, 1.80, 5.30),
    (3.43, 4.70, 1.20, 5.20), (3.06, 4.84, 1.00, 5.00), (2.88, 4.57, 0.85, 4.90), (3.20, 4.42, 1.00, 5.00),
    (3.44, 4.26, 1.20, 5.30), (2.98, 4.02, 0.30, 5.00), (3.56, 4.16, 1.30, 5.20), (3.62, 4.00, 1.20, 5.30),
    (4.23, 4.02, 2.20, 5.30), (4.10, 4.05, 2.00, 5.20), (4.05, 3.88, 1.90, 5.10), (4.06, 3.67, 1.80, 5.00),
    (3.89, 3.79, 1.60, 5.00), (4.18, 3.37, 2.00, 5.00), (4.36, 3.19, 2.20, 4.90), (4.02, 3.07, 1.80, 4.90),
    (3.85, 2.92, 1.60, 4.90), (3.67, 2.86, 1.40, 4.80), (3.46, 2.77, 1.20, 4.80), (3.22, 2.65, 1.00, 4.70),
    (3.11, 2.94, 0.80, 4.80), (3.46, 2.07, 1.20, 4.90), (3.39, 1.85, 1.20, 4.40), (1.35, 4.00, 0.00, 3.40),
    (1.75, 4.45, 0.85, 3.80), (1.87, 4.49, 0.85, 3.90), (2.23, 4.72, 1.00, 4.10), (2.45, 4.60, 1.00, 4.30),
    (1.51, 3.30, 0.00, 3.60), (1.65, 3.59, 0.00, 3.70), (1.61, 3.09, 0.00, 3.60), (1.65, 2.02, 0.30, 3.60),
    (1.70, 1.85, 0.30, 3.70), (1.87, 1.70, 0.30, 3.80), (2.04, 1.52, 0.60, 3.90), (2.00, 1.26, 0.60, 3.70),
    (2.13, 1.37, 0.60, 3.80), (2.39, 1.76, 0.30, 4.00), (2.49, 1.26, 0.60, 3.90), (1.84, 0.77, 1.20, 3.00),
    (1.96, 0.59, 1.20, 2.90), (1.47, 0.30, 0.60, 3.10), (1.82, 0.30, 0.60, 3.00), (1.94, 0.30, 0.60, 3.10),
    (1.66, 0.00, 0.60, 4.20), (1.79, 0.00, 0.60, 3.50), (1.87, 0.00, 0.60, 3.40), (2.12, 0.00, 0.60, 3.70),
    (2.89, 0.00, 1.00, 4.20), (2.67, 2.20, 0.30, 4.50), (2.81, 2.51, 0.30, 4.60), (2.60, 2.63, 0.30, 4.50),
    (3.00, 2.60, 0.60, 4.70), (1.70, 3.80, 0.00, 3.80), (1.75, 3.40, 0.00, 3.70), (1.80, 2.90, 0.00, 3.80),
    (1.85, 3.60, 0.00, 3.90), (1.90, 2.50, 0.30, 3.90), (1.95, 4.00, 0.00, 4.00), (2.00, 3.20, 0.00, 4.10),
    (2.05, 2.80, 0.00, 4.10), (2.10, 3.70, 0.00, 4.20), (2.15, 4.20, 0.30, 4.20), (2.20, 3.00, 0.00, 4.30),
    (2.25, 2.40, 0.30, 4.20), (2.30, 3.50, 0.00, 4.40), (2.35, 4.30, 0.80, 4.30), (2.40, 2.90, 0.30, 4.50),
    (2.45, 3.80, 0.30, 4.50), (2.50, 3.30, 0.30, 4.60), (2.55, 4.00, 0.50, 4.60), (2.60, 3.10, 0.30, 4.60),
    (2.70, 3.70, 0.50, 4.70), (2.75, 2.80, 0.30, 4.60), (2.85, 3.40, 0.50, 4.80), (2.95, 3.60, 0.60, 4.90),
    (2.00, 2.20, 0.30, 4.00), (1.95, 1.90, 0.30, 3.90), (2.20, 3.90, 0.30, 4.30), (2.30, 2.00, 0.30, 4.20),
    (1.80, 4.10, 0.30, 3.80), (2.40, 4.50, 1.00, 4.20), (2.65, 4.30, 0.80, 4.60), (3.25, 3.30, 0.80, 4.90),
    (3.30, 3.80, 1.00, 5.00),
    (1.65, 3.35, 0.00, 3.70), (1.70, 3.15, 0.00, 3.70), (1.75, 3.60, 0.00, 3.80), (1.80, 3.30, 0.00, 3.80),
    (1.90, 3.10, 0.00, 3.90), (1.95, 3.45, 0.00, 4.00), (2.00, 2.95, 0.00, 4.00), (2.05, 3.60, 0.00, 4.10),
    (2.05, 4.05, 0.30, 4.10), (2.10, 3.30, 0.00, 4.20), (2.10, 2.70, 0.00, 4.10), (2.15, 3.85, 0.30, 4.20),
    (2.15, 3.15, 0.00, 4.20), (2.20, 3.45, 0.00, 4.30), (2.20, 2.55, 0.30, 4.20), (2.25, 4.00, 0.30, 4.30),
    (2.25, 3.20, 0.00, 4.30), (2.30, 3.75, 0.30, 4.40), (2.30, 2.80, 0.30, 4.30), (2.35, 3.30, 0.30, 4.40),
    (2.35, 4.05, 0.50, 4.40), (2.40, 3.60, 0.30, 4.50), (2.45, 3.05, 0.30, 4.50), (2.45, 4.20, 0.60, 4.50),
    (2.50, 3.70, 0.30, 4.60), (2.55, 3.40, 0.30, 4.60), (2.55, 2.75, 0.30, 4.50), (2.65, 3.55, 0.40, 4.70),
    (2.65, 3.95, 0.50, 4.70), (2.80, 3.85, 0.50, 4.80), (2.90, 3.20, 0.50, 4.80), (3.05, 3.50, 0.70, 4.90),
    (3.15, 3.65, 0.80, 4.90), (3.40, 3.60, 1.00, 5.00), (3.55, 3.40, 1.20, 5.00), (3.70, 3.55, 1.40, 5.00),
    (1.90, 2.25, 0.30, 3.90), (2.05, 1.95, 0.30, 3.90), (2.15, 1.70, 0.30, 3.90), (1.85, 2.05, 0.30, 3.80),
    (2.35, 2.40, 0.30, 4.20), (2.60, 2.35, 0.30, 4.40), (1.85, 4.35, 0.80, 3.90), (2.10, 4.45, 0.90, 4.00),
    (2.55, 4.45, 0.90, 4.40),
]
SANDY_CORE = [
    (2.02, 3.35, 0.00, 4.10), (2.08, 3.05, 0.00, 4.10), (2.12, 3.50, 0.00, 4.20), (2.18, 3.25, 0.00, 4.20),
    (2.22, 3.65, 0.00, 4.30), (2.28, 3.40, 0.00, 4.30), (2.32, 3.05, 0.30, 4.40), (2.38, 3.85, 0.30, 4.40),
    (1.98, 3.65, 0.00, 4.00), (1.92, 3.30, 0.00, 3.90), (1.88, 2.85, 0.00, 3.90), (2.42, 3.25, 0.30, 4.50),
    (2.48, 3.55, 0.30, 4.60), (2.52, 3.95, 0.40, 4.60), (2.18, 2.90, 0.00, 4.20), (2.28, 2.60, 0.30, 4.30),
    (1.78, 3.50, 0.00, 3.80), (2.05, 2.50, 0.30, 4.00), (2.62, 3.25, 0.30, 4.60), (2.38, 2.70, 0.30, 4.40),
]

PANELS = [ARTHUR + ARTHUR_CORE, HARVEY + HARVEY_CORE, IRMA + IRMA_CORE,
          MATTHEW + MATTHEW_CORE, NATE + NATE_CORE, SANDY + SANDY_CORE]
TICKS = [0, 1, 2, 3, 4, 5, 6]

# ---- layout in pixels ----
W, H = 982, 485
COLS = [(41, 350), (358, 668), (677, 981)]
ROWS = [(5, 35, 222), (231, 261, 448)]   # strip top, panel top, panel bottom
PX_PER_UNIT = 47.33
X0 = -0.30
YLIM = (-0.28, 6.25)

INK = "#333333"
TICK_TXT = "#4D4D4D"
GRID = "#EBEBEB"

fig = plt.figure(figsize=(W / 100, H / 100), dpi=100)


def frac(x0, y0, x1, y1):
    return [x0 / W, 1 - y1 / H, (x1 - x0) / W, (y1 - y0) / H]


for i, (name, rows) in enumerate(zip(STORMS, PANELS)):
    r, c = divmod(i, 3)
    cx0, cx1 = COLS[c]
    st, pt, pb = ROWS[r]

    # strip
    sax = fig.add_axes(frac(cx0, st, cx1, pt))
    sax.set_facecolor("#D9D9D9")
    sax.set_xticks([])
    sax.set_yticks([])
    for s in sax.spines.values():
        s.set_color(INK)
        s.set_linewidth(0.9)
    sax.text(0.5, 0.47, name, ha="center", va="center", fontsize=15,
             color="#1A1A1A", transform=sax.transAxes)

    ax = fig.add_axes(frac(cx0, pt, cx1, pb))
    d = np.array(rows)
    xm, yt, lo, hi = d[:, 0], d[:, 1], d[:, 2], d[:, 3]

    ax.hlines(yt, lo, hi, colors="#BEBEBE", alpha=0.5, linewidth=1.3, zorder=2)
    ax.scatter(xm, yt, s=28, color="red", alpha=0.6, edgecolors="none", zorder=3)
    ax.axline((0, 0), slope=1, color="#00BFFF", linewidth=1.1,
              linestyle=(0, (4, 3.5)), zorder=4)

    ax.set_xlim(X0, X0 + (cx1 - cx0) / PX_PER_UNIT)
    ax.set_ylim(*YLIM)
    ax.set_xticks(TICKS)
    ax.set_yticks(TICKS)
    ax.set_xticks(np.arange(0.5, 6.5, 1.0), minor=True)
    ax.set_yticks(np.arange(0.5, 6.5, 1.0), minor=True)
    ax.grid(which="major", color=GRID, linewidth=1.0)
    ax.grid(which="minor", color=GRID, linewidth=0.5)
    ax.set_axisbelow(True)
    ax.tick_params(which="minor", length=0)
    ax.tick_params(which="major", length=3, width=0.6, color=INK,
                   labelcolor=TICK_TXT, labelsize=8.5, pad=2)
    if c != 0:
        ax.tick_params(axis="y", labelleft=False, length=0)
    if r != 1:
        ax.tick_params(axis="x", labelbottom=False, length=0)
    for s in ax.spines.values():
        s.set_color(INK)
        s.set_linewidth(0.9)

fig.text(14 / W, 1 - 241 / H, "Truth", rotation=90, ha="center", va="center",
         fontsize=10.5, color="black")
fig.text(511 / W, 1 - 478 / H, "Mean Prediction", ha="center", va="center",
         fontsize=10.5, color="black")

fig.savefig("out.png", dpi=100, facecolor="white")
